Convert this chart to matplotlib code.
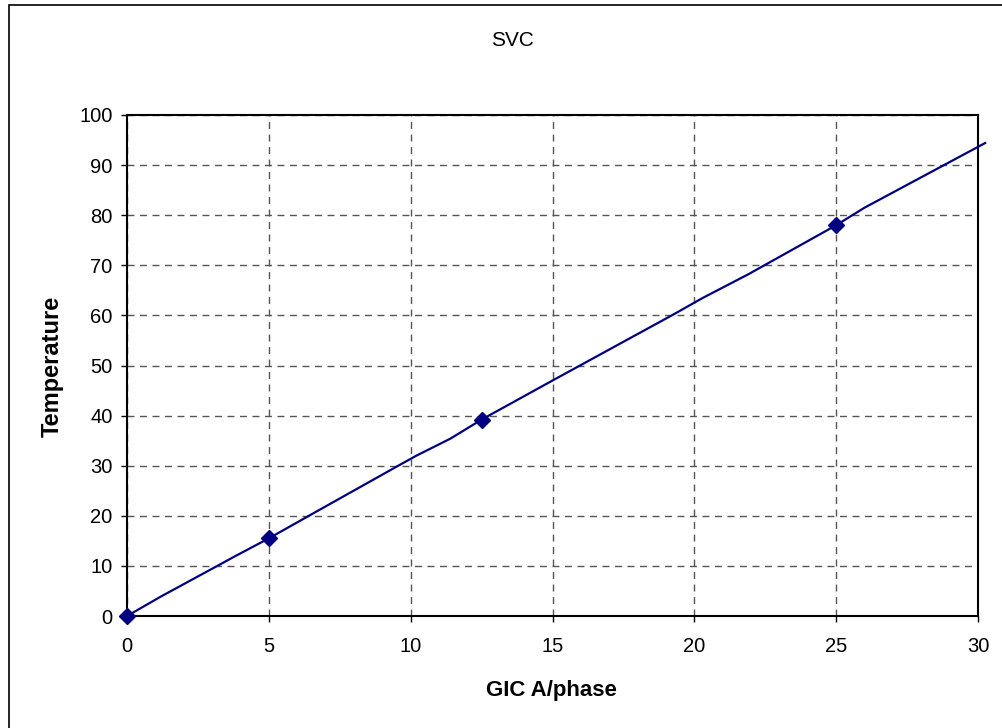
import matplotlib.pyplot as plt
from matplotlib.patches import Rectangle

plt.rcParams['font.family'] = ['Liberation Sans', 'DejaVu Sans']

# marker series
gic_pts = [0, 5, 12.5, 25]
temp_pts = [0, 15.5, 39.2, 78]

# line series
gic_line = [0, 1.2, 3.8, 5, 6.6, 9.5, 10.2, 11.4, 12.5, 15, 19.3, 20.3, 21.9, 25, 26, 30.25]
temp_line = [0, 3.9, 11.9, 15.5, 20.6, 29.8, 32.0, 35.4, 39.2, 47.0, 60.3, 63.5, 68.2, 78.0, 81.5, 94.4]

xticks = [0, 5, 10, 15, 20, 25, 30]
yticks = [0, 10, 20, 30, 40, 50, 60, 70, 80, 90, 100]

navy = '#000080'

fig = plt.figure(figsize=(10.02, 7.28), dpi=100)
ax = fig.add_axes([127 / 1002, 112 / 728, 851 / 1002, 501 / 728])

ax.plot(gic_line, temp_line, color=navy, lw=1.6, clip_on=False, zorder=3)
ax.plot(gic_pts, temp_pts, ls='none', marker='D', ms=8, color=navy, clip_on=False, zorder=4)

ax.set_xlim(0, 30)
ax.set_ylim(0, 100)
ax.set_xticks(xticks)
ax.set_yticks(yticks)
ax.grid(True, ls=(0, (5, 4)), color='#555555', lw=1)
ax.set_axisbelow(True)
for s in ax.spines.values():
    s.set_linewidth(1.5)
    s.set_color('black')
ax.tick_params(direction='out', length=4.3, width=1, labelsize=14.5)
ax.tick_params(axis='x', pad=11)
ax.tick_params(axis='y', pad=6)

fig.text(512 / 1002, 1 - 40 / 728, 'SVC', ha='center', va='center', fontsize=15)
fig.text(551 / 1002, 0.052, 'GIC A/phase', ha='center', va='center', fontsize=16, fontweight='bold')
fig.text(0.052, 0.497, 'Temperature', ha='center', va='center', rotation=90, fontsize=17, fontweight='bold')

fig.patches.append(Rectangle((9 / 1002, -0.1), 1.2, 1.1 - 5 / 728, transform=fig.transFigure,
                             fill=False, lw=1.2, ec='black'))

fig.savefig('out.png', dpi=100)
